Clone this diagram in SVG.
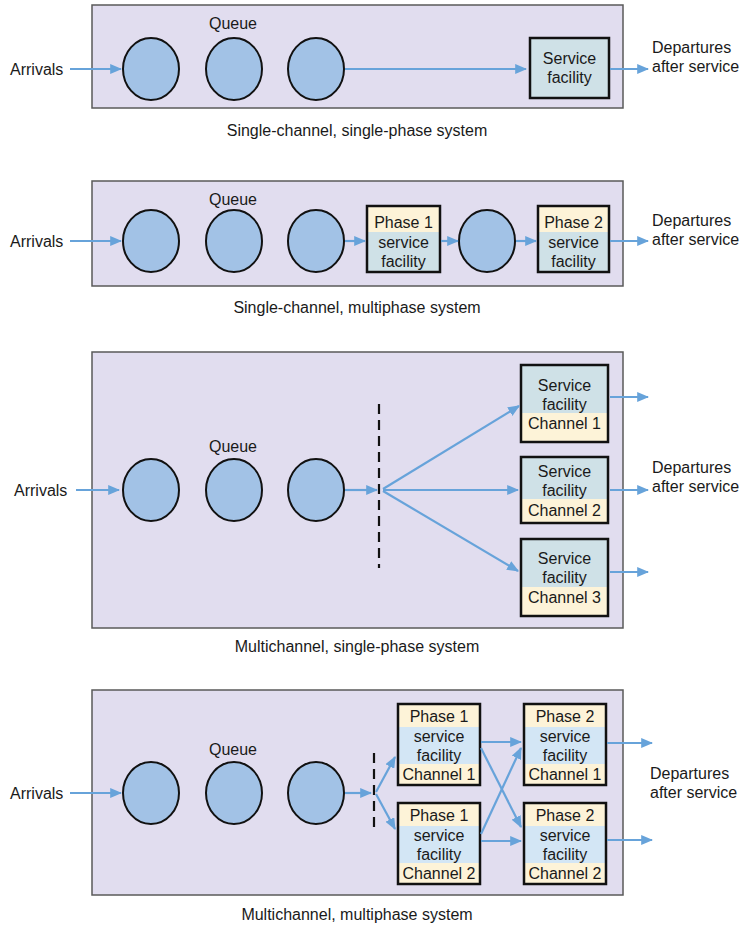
<svg xmlns="http://www.w3.org/2000/svg" width="743" height="926" viewBox="0 0 743 926">
<style>
text{font-family:"Liberation Sans",Arial,sans-serif;font-size:16px;fill:#1a1a1a}
.m{text-anchor:middle}
.panel{fill:#e1ddef;stroke:#5a5a5a;stroke-width:1.5}
.q{fill:#a2c2e6;stroke:#111;stroke-width:2}
.bx{fill:none;stroke:#111;stroke-width:2.5}
.sv{fill:#cfe1e7}
.cr{fill:#fdf3d8}
.sb{fill:#d3e6f5}
.c{stroke:#67a3da;stroke-width:2.2;fill:none;marker-end:url(#ah)}
.d{stroke:#111;stroke-width:2.2;stroke-dasharray:10,6;fill:none}
</style>
<defs>
<marker id="ah" viewBox="0 0 10 10" refX="9" refY="5" markerWidth="12" markerHeight="10" markerUnits="userSpaceOnUse" orient="auto" preserveAspectRatio="none"><path d="M0,0 L10,5 L0,10 z" fill="#67a3da"/></marker>
</defs>
<!-- Panel 1 -->
<g id="panel1">
<rect class="panel" x="92" y="5" width="531" height="103"/>
<text class="m" x="233" y="29">Queue</text>
<ellipse class="q" cx="151" cy="69" rx="28" ry="31"/>
<ellipse class="q" cx="234" cy="69" rx="28" ry="31"/>
<ellipse class="q" cx="316" cy="69" rx="28" ry="31"/>
<g id="sf1"><rect class="sv" x="530" y="38" width="79" height="60"/><rect class="bx" x="530" y="38" width="79" height="60"/>
<text class="m" x="569.5" y="64">Service</text><text class="m" x="569.5" y="83">facility</text></g>
<text x="10" y="75">Arrivals</text>
<text x="652" y="53">Departures</text><text x="652" y="72">after service</text>
<text class="m" x="357" y="136">Single-channel, single-phase system</text>
</g>
<!-- Panel 2 -->
<g id="panel2">
<rect class="panel" x="92" y="181" width="531" height="105"/>
<text class="m" x="233" y="205">Queue</text>
<ellipse class="q" cx="151" cy="241" rx="28" ry="31"/>
<ellipse class="q" cx="234" cy="241" rx="28" ry="31"/>
<ellipse class="q" cx="316" cy="241" rx="28" ry="31"/>
<ellipse class="q" cx="487" cy="241" rx="28" ry="31"/>
<g id="p1sf"><rect class="cr" x="367" y="206" width="73" height="26"/><rect class="sv" x="367" y="232" width="73" height="40"/><rect class="bx" x="367" y="206" width="73" height="66"/>
<text class="m" x="403.5" y="228">Phase 1</text><text class="m" x="403.5" y="248">service</text><text class="m" x="403.5" y="267">facility</text></g>
<g id="p2sf"><rect class="cr" x="538" y="206" width="71" height="26"/><rect class="sv" x="538" y="232" width="71" height="40"/><rect class="bx" x="538" y="206" width="71" height="66"/>
<text class="m" x="573.5" y="228">Phase 2</text><text class="m" x="573.5" y="248">service</text><text class="m" x="573.5" y="267">facility</text></g>
<text x="10" y="247">Arrivals</text>
<text x="652" y="226">Departures</text><text x="652" y="245">after service</text>
<text class="m" x="357" y="313">Single-channel, multiphase system</text>
</g>
<!-- Panel 3 -->
<g id="panel3">
<rect class="panel" x="92" y="352" width="531" height="276"/>
<text class="m" x="233" y="452">Queue</text>
<ellipse class="q" cx="151" cy="490" rx="28" ry="31"/>
<ellipse class="q" cx="234" cy="490" rx="28" ry="31"/>
<ellipse class="q" cx="316" cy="490" rx="28" ry="31"/>
<path class="d" d="M379,404 V568"/>
<g id="ch1"><rect class="sv" x="521" y="365" width="87" height="48"/><rect class="cr" x="521" y="413" width="87" height="29"/><rect class="bx" x="521" y="365" width="87" height="77"/>
<text class="m" x="564.5" y="391">Service</text><text class="m" x="564.5" y="410">facility</text><text class="m" x="564.5" y="429">Channel 1</text></g>
<g id="ch2"><rect class="sv" x="521" y="457" width="87" height="42"/><rect class="cr" x="521" y="499" width="87" height="24"/><rect class="bx" x="521" y="457" width="87" height="66"/>
<text class="m" x="564.5" y="477">Service</text><text class="m" x="564.5" y="496">facility</text><text class="m" x="564.5" y="516">Channel 2</text></g>
<g id="ch3"><rect class="sv" x="521" y="539" width="87" height="48"/><rect class="cr" x="521" y="587" width="87" height="29"/><rect class="bx" x="521" y="539" width="87" height="77"/>
<text class="m" x="564.5" y="564">Service</text><text class="m" x="564.5" y="583">facility</text><text class="m" x="564.5" y="603">Channel 3</text></g>
<text x="14" y="496">Arrivals</text>
<text x="652" y="473">Departures</text><text x="652" y="492">after service</text>
<text class="m" x="357" y="652">Multichannel, single-phase system</text>
</g>
<!-- Panel 4 -->
<g id="panel4">
<rect class="panel" x="92" y="690" width="531" height="205"/>
<text class="m" x="233" y="755">Queue</text>
<ellipse class="q" cx="151" cy="793" rx="28" ry="31"/>
<ellipse class="q" cx="234" cy="793" rx="28" ry="31"/>
<ellipse class="q" cx="316" cy="793" rx="28" ry="31"/>
<path class="d" d="M374,753 V832"/>
<g id="p1c1"><rect class="cr" x="398" y="704" width="82" height="23"/><rect class="sb" x="398" y="727" width="82" height="37"/><rect class="cr" x="398" y="764" width="82" height="21"/><rect class="bx" x="398" y="704" width="82" height="81"/>
<text class="m" x="439" y="722">Phase 1</text><text class="m" x="439" y="742">service</text><text class="m" x="439" y="761">facility</text><text class="m" x="439" y="780">Channel 1</text></g>
<g id="p1c2"><rect class="cr" x="398" y="803" width="82" height="23"/><rect class="sb" x="398" y="826" width="82" height="37"/><rect class="cr" x="398" y="863" width="82" height="21"/><rect class="bx" x="398" y="803" width="82" height="81"/>
<text class="m" x="439" y="821">Phase 1</text><text class="m" x="439" y="841">service</text><text class="m" x="439" y="860">facility</text><text class="m" x="439" y="879">Channel 2</text></g>
<g id="p2c1"><rect class="cr" x="524" y="704" width="82" height="23"/><rect class="sb" x="524" y="727" width="82" height="37"/><rect class="cr" x="524" y="764" width="82" height="21"/><rect class="bx" x="524" y="704" width="82" height="81"/>
<text class="m" x="565" y="722">Phase 2</text><text class="m" x="565" y="742">service</text><text class="m" x="565" y="761">facility</text><text class="m" x="565" y="780">Channel 1</text></g>
<g id="p2c2"><rect class="cr" x="524" y="803" width="82" height="23"/><rect class="sb" x="524" y="826" width="82" height="37"/><rect class="cr" x="524" y="863" width="82" height="21"/><rect class="bx" x="524" y="803" width="82" height="81"/>
<text class="m" x="565" y="821">Phase 2</text><text class="m" x="565" y="841">service</text><text class="m" x="565" y="860">facility</text><text class="m" x="565" y="879">Channel 2</text></g>
<text x="10" y="799">Arrivals</text>
<text x="650" y="779">Departures</text><text x="650" y="798">after service</text>
<text class="m" x="357" y="920">Multichannel, multiphase system</text>
</g>
<g id="connectors">
<path class="c" d="M70,69 H121"/>
<path class="c" d="M345,69 H526"/>
<path class="c" d="M610,69 H648"/>
<path class="c" d="M70,241 H121"/>
<path class="c" d="M345,241 H365"/>
<path class="c" d="M441,241 H458"/>
<path class="c" d="M516,241 H536"/>
<path class="c" d="M610,241 H648"/>
<path class="c" d="M76,490 H119"/>
<path class="c" d="M345,490 H377"/>
<path class="c" d="M383,489 L519,406"/>
<path class="c" d="M383,490 H518"/>
<path class="c" d="M383,491 L518,571"/>
<path class="c" d="M610,397 H648"/>
<path class="c" d="M610,490 H648"/>
<path class="c" d="M610,572 H648"/>
<path class="c" d="M70,793 H121"/>
<path class="c" d="M345,793 H371"/>
<path class="c" d="M376,792 L395,757"/>
<path class="c" d="M376,794 L395,829"/>
<path class="c" d="M481,742 H521"/>
<path class="c" d="M481,748 L521,827"/>
<path class="c" d="M481,834 L521,748"/>
<path class="c" d="M481,841 H521"/>
<path class="c" d="M607,743 H652"/>
<path class="c" d="M607,840 H652"/>
</g>
</svg>
